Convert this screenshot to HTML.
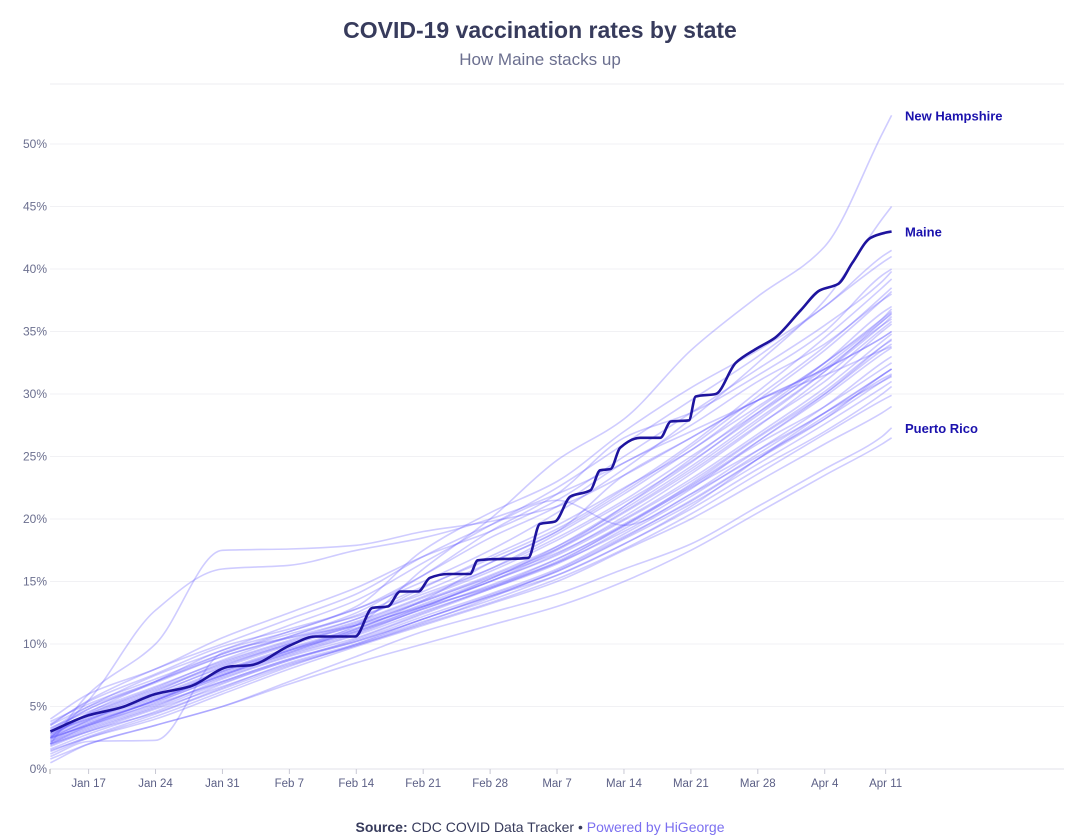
<!DOCTYPE html>
<html><head><meta charset="utf-8">
<style>
body{margin:0;background:#fff;}
svg{display:block;font-family:"Liberation Sans",sans-serif;}
</style></head>
<body>
<svg id="chart" width="1080" height="840" viewBox="0 0 1080 840">
<text x="540" y="38" text-anchor="middle" font-size="23" font-weight="bold" fill="#373b5c">COVID-19 vaccination rates by state</text>
<text x="540" y="65" text-anchor="middle" font-size="17" fill="#6b6f8f">How Maine stacks up</text>
<g id="grid"></g>
<g id="yaxis"></g>
<g id="xaxis"></g>
<g id="lines"></g>
<g id="labels"></g>
<text x="540" y="832" text-anchor="middle" font-size="14" fill="#373b5c"><tspan font-weight="bold">Source:</tspan> CDC COVID Data Tracker • <tspan fill="#7b6ff0">Powered by HiGeorge</tspan></text>
</svg>
<script>
const days = [0,4,11,18,25,32,39,46,53,60,67,74,81,87,88];
const yTicks = [0,5,10,15,20,25,30,35,40,45,50];
const xTickLabels = ["Jan 17","Jan 24","Jan 31","Feb 7","Feb 14","Feb 21","Feb 28","Mar 7","Mar 14","Mar 21","Mar 28","Apr 4","Apr 11"];
const xTickDays = [4,11,18,25,32,39,46,53,60,67,74,81,88];
const maineDays = [0,4,7.3,11,14.6,18.8,20.9,25.1,27.7,31.9,33.7,35.3,36.6,38.5,39.7,41.6,43.9,44.7,50,51.2,52.8,54.4,56.5,57.5,58.6,59.6,61.7,63.8,64.9,66.8,67.5,69.6,71.7,73.8,75.8,78.5,80.5,82.4,83.9,85.8,87.3,88];
const maineValues = [3.0,4.3,4.9,6.0,6.6,8.2,8.3,9.9,10.6,10.6,12.9,13.0,14.2,14.2,15.3,15.6,15.6,16.7,16.9,19.6,19.8,21.8,22.3,23.9,24.0,25.7,26.5,26.5,27.8,27.9,29.8,30.0,32.5,33.6,34.5,36.7,38.3,38.8,40.5,42.5,42.9,43.0];
const newHampshire = [2.5,3.5,5.5,7.5,9.5,11.5,16.0,20.0,24.7,28.0,33.5,37.8,41.8,50.8,52.3];
const puertoRico = [0.5,2.0,3.5,5.0,7.0,9.0,11.0,12.5,14.0,16.0,18.0,21.0,24.0,26.6,27.3];
const otherStates = [
[2.5,3.5,5.2,7.0,8.8,10.2,12.0,13.8,15.8,18.5,21.5,24.8,28.0,31.5,32.0],
[3.0,4.0,5.8,7.8,9.5,11.0,13.0,15.0,17.5,20.5,23.8,27.5,31.0,35.0,35.6],
[1.8,3.0,4.5,6.5,8.5,10.0,11.8,13.5,15.5,18.0,20.8,24.0,27.0,30.0,30.6],
[2.2,3.6,5.5,7.5,9.3,11.2,13.2,15.2,17.8,21.0,24.5,28.5,32.5,36.5,37.0],
[3.5,5.0,7.0,9.0,10.5,12.0,14.5,17.0,19.5,22.5,25.5,29.5,33.5,37.5,38.2],
[1.5,2.5,4.0,6.0,8.0,9.8,11.5,13.2,15.0,17.5,20.0,23.0,26.0,28.5,29.0],
[2.8,4.2,6.2,8.5,10.2,11.8,13.8,16.0,18.8,22.0,25.5,29.0,32.5,36.0,36.8],
[2.0,3.2,5.0,7.2,9.0,10.5,12.5,14.5,16.8,19.5,22.8,26.5,30.0,33.5,34.0],
[2.0,6.0,10.0,17.5,17.6,17.9,19.0,19.8,21.0,23.5,26.5,29.5,32.0,34.5,35.0],
[2.5,5.5,12.7,16.0,16.3,17.5,18.5,20.0,22.0,24.5,27.5,31.0,34.0,37.5,38.0],
[3.2,5.0,7.5,9.5,11.5,13.5,16.5,19.5,22.5,26.0,29.5,33.0,37.0,40.5,41.0],
[2.5,4.5,7.0,9.5,11.0,13.0,17.5,20.5,23.0,27.0,30.5,33.5,37.0,41.0,41.5],
[3.5,5.5,8.0,10.0,12.0,14.0,17.0,19.5,21.5,19.5,22.0,25.0,28.0,31.0,31.5],
[0.8,2.0,3.5,5.0,6.8,8.5,10.0,11.5,13.0,15.0,17.5,20.5,23.5,26.0,26.5],
[1.2,2.5,4.2,6.2,8.2,10.0,12.0,13.8,15.5,18.0,21.0,24.8,28.5,31.5,32.0],
[2.6,3.8,5.6,7.6,9.4,11.0,12.8,14.6,16.5,19.0,22.0,25.5,29.0,32.5,33.0],
[3.8,5.2,7.2,9.2,10.8,12.2,14.0,16.0,18.5,21.5,25.0,28.5,32.0,35.5,36.0],
[2.1,3.3,5.1,7.0,8.8,10.3,12.2,14.0,16.0,18.8,21.8,25.2,28.5,31.0,31.4],
[2.9,4.3,6.3,8.3,10.0,11.6,13.5,15.5,17.8,20.8,24.2,28.0,31.8,35.5,36.2],
[1.6,2.8,4.6,6.8,8.7,10.4,12.4,14.4,16.6,19.4,22.6,26.0,29.0,32.0,32.5],
[3.3,4.6,6.6,8.6,10.3,12.0,14.2,16.5,19.0,22.2,25.8,29.8,33.8,37.8,38.5],
[2.4,3.9,6.0,8.2,10.0,11.5,13.4,15.3,17.3,20.0,23.2,26.8,30.5,34.2,34.8],
[2.0,3.0,4.8,6.6,8.4,9.9,11.6,13.3,15.2,17.6,20.4,23.6,26.8,29.5,29.9],
[3.1,4.8,6.9,9.0,10.6,12.3,14.6,16.8,19.2,22.4,26.0,30.2,34.5,38.5,39.2],
[2.7,4.0,5.9,7.9,9.7,11.3,13.1,15.0,17.1,19.9,23.0,26.6,30.2,33.8,34.3],
[1.0,2.2,2.3,9.3,10.5,11.5,13.0,14.5,16.5,19.5,22.5,25.5,28.5,31.5,32.0],
[2.3,3.7,5.4,7.3,9.1,10.7,12.6,14.4,16.4,19.2,22.4,26.2,30.0,33.8,34.4],
[3.6,5.4,7.6,9.8,11.2,12.8,15.5,18.5,21.0,24.5,27.0,29.5,32.0,34.5,35.0],
[2.2,3.4,5.3,7.4,9.2,10.8,12.9,15.2,17.6,21.0,24.8,28.8,32.5,36.0,36.6],
[2.0,3.5,5.5,7.8,9.6,11.2,13.5,16.5,19.0,23.5,26.5,29.5,31.5,33.5,33.8],
[1.4,2.6,4.4,6.4,8.3,9.9,11.7,13.7,15.9,18.6,21.4,24.8,28.2,31.2,31.6],
[3.0,4.4,6.4,8.4,10.1,11.7,13.7,15.8,18.3,21.3,24.6,28.3,32.2,35.8,36.4],
[2.5,3.9,5.7,7.7,9.5,11.1,13.0,15.0,17.2,20.2,23.6,27.4,31.4,35.2,35.8],
[4.0,6.0,8.0,10.5,12.5,14.5,17.0,19.0,21.5,25.0,28.5,32.0,35.5,39.0,39.8],
[1.9,3.1,4.9,6.9,8.7,10.2,12.0,13.9,15.8,18.4,21.2,24.4,27.6,30.5,31.0],
[2.8,4.1,6.1,8.1,9.9,11.5,13.4,15.4,17.6,20.6,24.0,27.8,31.8,35.8,36.5],
[2.4,3.6,5.5,7.5,9.3,10.9,12.8,14.7,16.8,19.6,22.7,26.2,29.8,33.2,33.7],
[3.0,4.8,7.0,9.2,11.0,12.8,15.0,17.5,20.5,24.0,28.0,32.5,37.5,44.0,45.0],
[2.6,4.4,6.5,8.7,10.6,12.5,15.5,19.0,22.0,26.5,28.5,31.5,35.0,39.5,40.0]
];

const NS="http://www.w3.org/2000/svg";
const L=50,R=1064,T=84,B=769;
const xS=d=>88.6+(d-4)*9.56;
const yS=v=>B-v*12.5;
function mk(tag,attrs,parent){const e=document.createElementNS(NS,tag);for(const k in attrs)e.setAttribute(k,attrs[k]);parent.appendChild(e);return e;}
function monoPath(xs,ys){
  const n=xs.length;const dx=[],m=[],t=new Array(n);
  for(let i=0;i<n-1;i++){dx.push(xs[i+1]-xs[i]);m.push((ys[i+1]-ys[i])/(xs[i+1]-xs[i]));}
  t[0]=m[0];t[n-1]=m[n-2];
  for(let i=1;i<n-1;i++){if(m[i-1]*m[i]<=0)t[i]=0;else{const a=dx[i-1],b=dx[i];t[i]=3*(a+b)/((2*b+a)/m[i-1]+(b+2*a)/m[i]);}}
  let d="M"+xs[0].toFixed(1)+","+ys[0].toFixed(1);
  for(let i=0;i<n-1;i++){const h=dx[i]/3;d+="C"+(xs[i]+h).toFixed(1)+","+(ys[i]+t[i]*h).toFixed(1)+" "+(xs[i+1]-h).toFixed(1)+","+(ys[i+1]-t[i+1]*h).toFixed(1)+" "+xs[i+1].toFixed(1)+","+ys[i+1].toFixed(1);}
  return d;
}
const grid=document.getElementById('grid'),yax=document.getElementById('yaxis'),xax=document.getElementById('xaxis'),lines=document.getElementById('lines'),labels=document.getElementById('labels');
let e=mk('line',{x1:L,x2:R,y1:T,y2:T,stroke:'#eeeef2','stroke-width':1},grid);


yTicks.forEach(v=>{
  const g=mk('line',{x1:L,x2:R,y1:yS(v),y2:yS(v),stroke:v===0?'#e2e2ea':'#f1f1f4','stroke-width':1},grid);
  
  
  const t=mk('text',{x:47,y:yS(v)+4,'text-anchor':'end','font-size':12,fill:'#6b6f8f'},yax);
  t.textContent=v+'%';
  
  
});
e=mk('line',{x1:L,x2:L,y1:B,y2:B+5,stroke:'#aaa','stroke-width':1},xax);


xTickLabels.forEach((lab,i)=>{
  const x=xS(xTickDays[i])-(i===12?6:0);
  const tk=mk('line',{x1:x,x2:x,y1:B,y2:B+5,stroke:'#c8c8d4','stroke-width':1},xax);
  
  
  const t=mk('text',{x:x,y:B+18,'text-anchor':'middle','font-size':11.5,fill:'#5b5f85'},xax);
  t.textContent=lab;
  
  
});
const bg=[...otherStates,newHampshire,puertoRico];
bg.forEach((s,i)=>{
  const p=mk('path',{d:monoPath(days.map(xS),s.map(yS)),fill:'none',stroke:'rgba(95,85,255,0.3)','stroke-width':1.6},lines);
  
  
});
const mp=mk('path',{d:monoPath(maineDays.map(xS),maineValues.map(yS)),fill:'none',stroke:'#1e149e','stroke-width':2.6,'stroke-linejoin':'round'},lines);


const lab=[["New Hampshire",newHampshire[newHampshire.length-1],'new-hampshire-label'],["Maine",maineValues[maineValues.length-1],'maine-label'],["Puerto Rico",puertoRico[puertoRico.length-1],'puerto-rico-label']];
lab.forEach(([name,v,dn])=>{
  const t=mk('text',{x:905,y:yS(v)+5,'font-size':13,'font-weight':'bold',fill:'#1b12ad'},labels);
  t.textContent=name;
  
  
});
</script>
</body></html>
